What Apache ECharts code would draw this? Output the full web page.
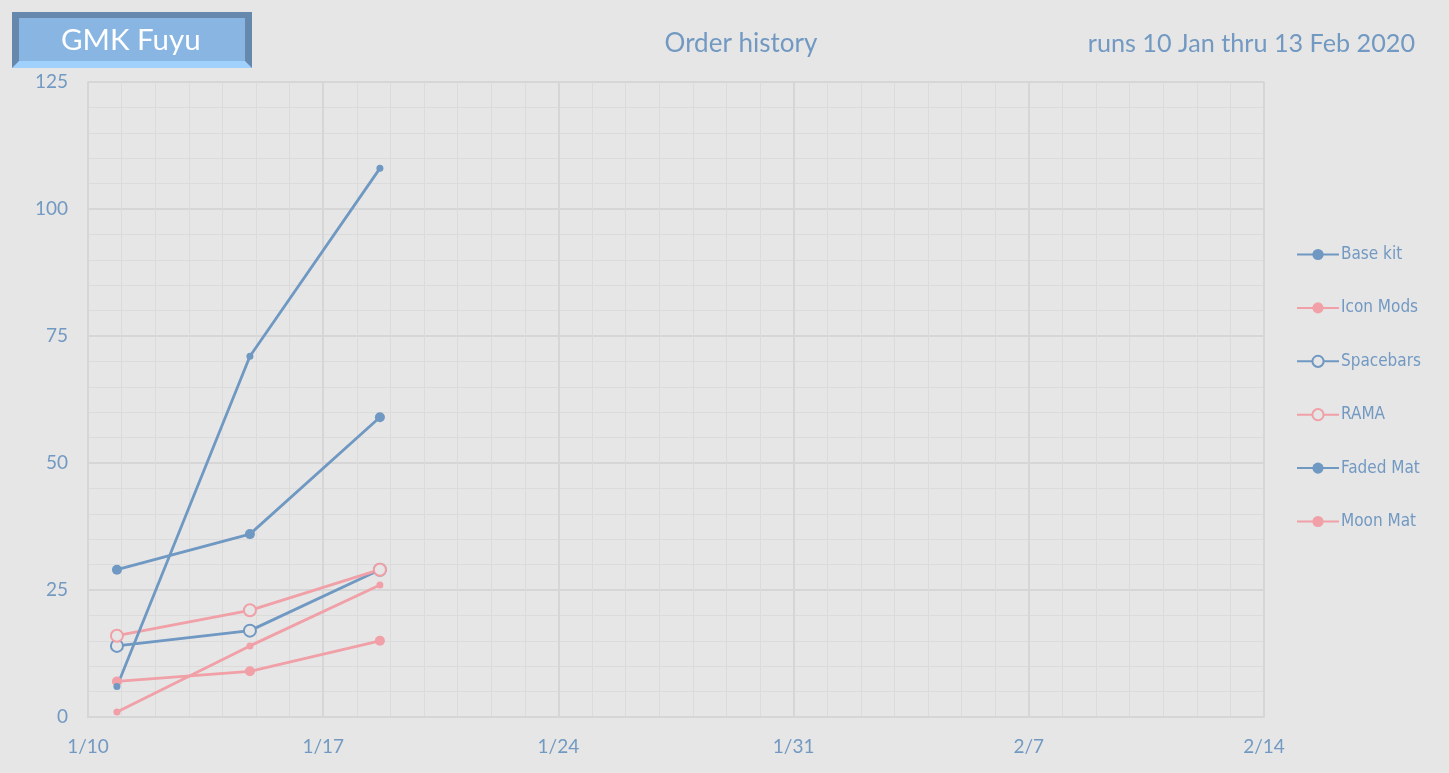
<!DOCTYPE html>
<html><head><meta charset="utf-8">
<script src="https://cdn.jsdelivr.net/npm/echarts@6/dist/echarts.min.js"></script>
<style>html,body{margin:0;padding:0;background:#e6e6e6;}#c{width:1449px;height:773px;}</style>
</head><body><div id="c"></div>
<script>
const dates = ['2020-01-10T20:40:00Z', '2020-01-14T19:40:00Z', '2020-01-18T16:30:00Z'];
const seriesNames = ['Base kit', 'Icon Mods', 'Spacebars', 'RAMA', 'Faded Mat', 'Moon Mat'];
const baseKit = [29, 36, 59];
const iconMods = [7, 9, 15];
const spacebars = [14, 17, 29];
const rama = [16, 21, 29];
const fadedMat = [6, 71, 108];
const moonMat = [1, 14, 26];
const xTickLabels = ['1/10', '1/17', '1/24', '1/31', '2/7', '2/14'];
const yTicks = [0, 25, 50, 75, 100, 125];

const BLUE = '#6f98c2', PINK = '#f0a0a6', TXT = '#7299c2', BG = '#e6e6e6';
const DAY = 86400000;
const xMin = Date.UTC(2020, 0, 10), xMax = Date.UTC(2020, 1, 14);
const ts = dates.map(d => Date.parse(d));
const pair = arr => arr.map((v, i) => [ts[i], v]);

function mk(name, vals, color, symbolSize, hollow) {
  return {
    name, type: 'line', data: pair(vals), symbol: 'circle', symbolSize,
    lineStyle: { color, width: 2.8 },
    itemStyle: hollow ? { color: BG, borderColor: color, borderWidth: 2 } : { color, borderWidth: 0 },
    emphasis: { disabled: true }
  };
}
const seriesVals = [baseKit, iconMods, spacebars, rama, fadedMat, moonMat];
const cfg = [[BLUE, 10, false], [PINK, 10, false], [BLUE, 12, true], [PINK, 12, true], [BLUE, 7, false], [PINK, 7, false]];

const chart = echarts.init(document.getElementById('c'));
chart.setOption({
  backgroundColor: BG,
  animation: false,
  textStyle: { fontFamily: 'Lato' },
  title: [
    { text: 'Order history', left: 736, top: 26, textAlign: 'center', textStyle: { color: TXT, fontSize: 26, fontWeight: 'normal', fontFamily: 'Lato' } },
    { text: 'runs 10 Jan thru 13 Feb 2020', right: 29, top: 26, textStyle: { color: TXT, fontSize: 25.2, fontWeight: 'normal', fontFamily: 'Lato' } }
  ],
  graphic: [
    { type: 'rect', shape: { x: 12, y: 12, width: 240, height: 56 }, style: { fill: '#6688ac' } },
    { type: 'polygon', shape: { points: [[12, 68], [252, 68], [245, 61], [19, 61]] }, style: { fill: '#a0d0fc' } },
    { type: 'rect', shape: { x: 19, y: 18, width: 226, height: 43 }, style: { fill: '#88b5e2' } },
    { type: 'text', left: 61, top: 25, style: { text: 'GMK Fuyu', x: 0, y: 0, fill: '#ffffff', font: '29.5px Lato' } }
  ],
  legend: {
    orient: 'vertical', left: 1291, top: 241, itemWidth: 42, itemHeight: 14, itemGap: 36.4,
    textStyle: { color: TXT, fontSize: 17, fontFamily: 'DejaVu Sans Condensed', padding: [0, 0, 0, -3] },
    data: seriesNames
  },
  grid: { left: 88, right: 185, top: 82, bottom: 56 },
  xAxis: {
    type: 'value', min: xMin, max: xMax, interval: 7 * DAY,
    axisLine: { show: true, lineStyle: { color: '#d6d6d6', width: 2 } },
    axisTick: { show: false },
    axisLabel: { color: TXT, fontSize: 19, margin: 20, formatter: v => xTickLabels[Math.round((v - xMin) / (7 * DAY))] },
    splitLine: { show: true, lineStyle: { color: '#d6d6d6', width: 2 } },
    minorTick: { show: false, splitNumber: 7 },
    minorSplitLine: { show: true, lineStyle: { color: '#dbdbdb', width: 1 } }
  },
  yAxis: {
    type: 'value', min: 0, max: 125, interval: 25,
    axisLine: { show: true, lineStyle: { color: '#d6d6d6', width: 2 } },
    axisTick: { show: false },
    axisLabel: { color: TXT, fontSize: 19, margin: 20, formatter: v => String(yTicks[Math.round(v / 25)]) },
    splitLine: { show: true, lineStyle: { color: '#d6d6d6', width: 2 } },
    minorTick: { show: false, splitNumber: 5 },
    minorSplitLine: { show: true, lineStyle: { color: '#dbdbdb', width: 1 } }
  },
  series: seriesNames.map((n, i) => mk(n, seriesVals[i], cfg[i][0], cfg[i][1], cfg[i][2]))
});
</script></body></html>
